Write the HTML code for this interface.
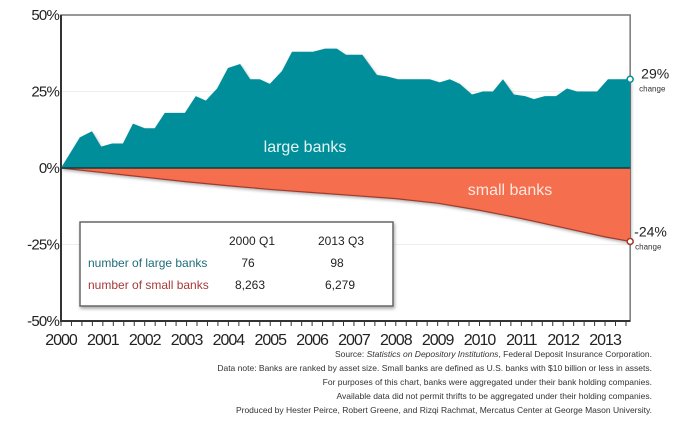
<!DOCTYPE html>
<html><head><meta charset="utf-8"><style>
body{margin:0;background:#fff;}
svg{display:block;font-family:"Liberation Sans",sans-serif;}
</style></head><body>
<svg id="c" width="700" height="430" xmlns="http://www.w3.org/2000/svg">
<defs><filter id="sh" x="-5%" y="-5%" width="110%" height="115%"><feDropShadow dx="1" dy="2" stdDeviation="1.5" flood-color="#000" flood-opacity="0.35"/></filter></defs>
<g id="plot"></g>
<g>
<rect x="80" y="222" width="313" height="84" fill="#fff" stroke="#666" stroke-width="1.5" filter="url(#sh)"/>
<text x="252" y="245" font-size="12" text-anchor="middle" fill="#222">2000 Q1</text>
<text x="341" y="245" font-size="12" text-anchor="middle" fill="#222">2013 Q3</text>
<text x="88" y="267" font-size="12" fill="#1d6d7a">number of large banks</text>
<text x="248" y="267" font-size="12" text-anchor="middle" fill="#222">76</text>
<text x="337" y="267" font-size="12" text-anchor="middle" fill="#222">98</text>
<text x="88" y="289" font-size="12" fill="#a8393a">number of small banks</text>
<text x="250" y="289" font-size="12" text-anchor="middle" fill="#222">8,263</text>
<text x="340" y="289" font-size="12" text-anchor="middle" fill="#222">6,279</text>
</g>
<g font-size="8.5" fill="#333" text-anchor="end">
<text x="652" y="357">Source: <tspan font-style="italic">Statistics on Depository Institutions</tspan>, Federal Deposit Insurance Corporation.</text>
<text x="652" y="371">Data note: Banks are ranked by asset size. Small banks are defined as U.S. banks with $10 billion or less in assets.</text>
<text x="652" y="385">For purposes of this chart, banks were aggregated under their bank holding companies.</text>
<text x="652" y="399">Available data did not permit thrifts to be aggregated under their holding companies.</text>
<text x="652" y="413">Produced by Hester Peirce, Robert Greene, and Rizqi Rachmat, Mercatus Center at George Mason University.</text>
</g>
</svg>
<script>
const largeT=[0,0.45,0.74,0.96,1.22,1.48,1.72,2.0,2.24,2.48,2.96,3.22,3.46,3.73,3.99,4.28,4.52,4.75,4.99,5.28,5.52,6.02,6.31,6.59,6.81,7.2,7.55,7.77,8.05,8.81,9.05,9.29,9.53,9.82,10.08,10.32,10.56,10.82,11.09,11.3,11.56,11.83,12.09,12.33,12.81,13.07,13.6];
const largeV=[0,10,12,7,8,8,14.5,13,13,18,18,23.5,22,26,32.7,34,29,29,27.5,31.7,38,38,39,39,37,37,30.4,30,29,29,28,29,27.5,24,25,25,29,24,23.5,22.5,23.5,23.5,26,25,25,29,29];
const smallT=[0,1,2,3,4,5,6,7,8,9,10,11,12,13,13.6];
const smallV=[0,-1.5,-3,-4.5,-5.8,-7,-8,-9,-10,-11.5,-13.8,-16.5,-19.5,-22.5,-24];
const yTicks=[50,25,0,-25,-50];
const years=[2000,2001,2002,2003,2004,2005,2006,2007,2008,2009,2010,2011,2012,2013];
const X0=61,PX=41.85,Y0=168,PY=153/50;
const xs=t=>X0+t*PX, ys=v=>Y0-v*PY;
const g=document.getElementById('plot');
const NS='http://www.w3.org/2000/svg';
function mk(tag,attrs){const e=document.createElementNS(NS,tag);for(const k in attrs)e.setAttribute(k,attrs[k]);g.appendChild(e);return e;}
const xEnd=xs(largeT[largeT.length-1]);
let f=mk('rect',{x:X0,y:ys(50),width:xEnd-X0,height:ys(-50)-ys(50),fill:'#fff',stroke:'#777','stroke-width':1.5});


yTicks.forEach(v=>{if(v===25||v===-25){const l=mk('line',{x1:X0,x2:xEnd,y1:ys(v),y2:ys(v),stroke:'#eee'});}});
let d='M'+xs(0)+','+ys(0);largeT.forEach((t,i)=>d+=' L'+xs(t)+','+ys(largeV[i]));d+=' L'+xEnd+','+ys(0)+' Z';
let la=mk('path',{d:d,fill:'#008f9a',filter:'url(#sh)'});


let d2='M'+xs(0)+','+ys(0);smallT.forEach((t,i)=>d2+=' L'+xs(t)+','+ys(smallV[i]));d2+=' L'+xEnd+','+ys(0)+' Z';
let sa=mk('path',{d:d2,fill:'#f56e4e',filter:'url(#sh)'});


let sl='';smallT.forEach((t,i)=>sl+=(i?' L':'M')+xs(t)+','+ys(smallV[i]));
let sll=mk('path',{d:sl,fill:'none',stroke:'#a33a2a','stroke-width':1.2});


let zl=mk('line',{x1:X0,x2:xEnd,y1:Y0,y2:Y0,stroke:'#1a3a3a','stroke-width':1.5});


let ax=mk('path',{d:'M'+X0+','+ys(50)+' V'+ys(-50)+' H'+xEnd,fill:'none',stroke:'#333','stroke-width':2});


yTicks.forEach(v=>{const t=mk('text',{x:X0-2,y:ys(v)+5,'font-size':15,'text-anchor':'end',fill:'#222','letter-spacing':'-0.8'});t.textContent=v+'%';});
for(let q=0;q<=54;q++){const x=xs(q/4);const l=mk('line',{x1:x,x2:x,y1:ys(-50),y2:ys(-50)+5,stroke:'#333','stroke-width':1});}
years.forEach((yr,i)=>{const t=mk('text',{x:xs(i),y:345,'font-size':16,'text-anchor':'middle',fill:'#222','letter-spacing':'-1'});t.textContent=yr;});
const lv=largeV[largeV.length-1], sv=smallV[smallV.length-1];
let m1=mk('circle',{cx:xEnd,cy:ys(lv),r:3,fill:'#fff',stroke:'#008f9a','stroke-width':1.5});


let m2=mk('circle',{cx:xEnd,cy:ys(sv),r:3,fill:'#fff',stroke:'#a33a2a','stroke-width':1.5});


let t1=mk('text',{x:xEnd+11,y:ys(lv)-1,'font-size':14,fill:'#222'});t1.textContent=lv+'%';


let t2=mk('text',{x:xEnd+9,y:ys(lv)+12,'font-size':8,fill:'#333'});t2.textContent='change';


let t3=mk('text',{x:xEnd+4,y:ys(sv)-5,'font-size':14,fill:'#222'});t3.textContent=sv+'%';


let t4=mk('text',{x:xEnd+5,y:ys(sv)+8,'font-size':8,fill:'#333'});t4.textContent='change';


let l1=mk('text',{x:305,y:152,'font-size':16,'text-anchor':'middle',fill:'#e6f4f4'});l1.textContent='large banks';


let l2=mk('text',{x:510,y:195,'font-size':16,'text-anchor':'middle',fill:'#fde8e0'});l2.textContent='small banks';


</script>
</body></html>
